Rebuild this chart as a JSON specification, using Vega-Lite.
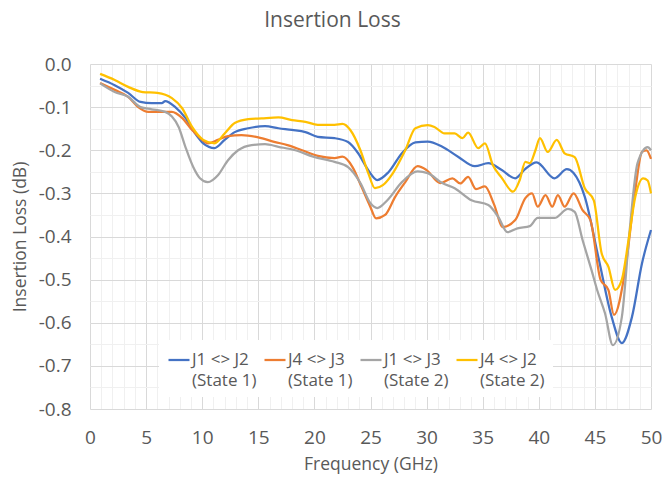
{
  "$schema": "https://vega.github.io/schema/vega-lite/v6.json",
  "width": 561,
  "height": 345,
  "autosize": {"type": "none"},
  "padding": {"left": 90, "top": 64, "right": 14, "bottom": 74},
  "background": "white",
  "title": {"text": "Insertion Loss", "fontSize": 21, "font": "Open Sans", "fontWeight": "normal", "color": "#595959", "anchor": "middle", "dx": -38, "offset": 24},
  "config": {"view": {"stroke": null}, "font": "Open Sans"},
  "data": {"values": [
    {"f": 0.9, "v": -0.034, "s": "J1 <> J2 (State 1)"},
    {"f": 2.2, "v": -0.049, "s": "J1 <> J2 (State 1)"},
    {"f": 3.4, "v": -0.067, "s": "J1 <> J2 (State 1)"},
    {"f": 4.5, "v": -0.088, "s": "J1 <> J2 (State 1)"},
    {"f": 5.5, "v": -0.091, "s": "J1 <> J2 (State 1)"},
    {"f": 6.4, "v": -0.091, "s": "J1 <> J2 (State 1)"},
    {"f": 6.7, "v": -0.086, "s": "J1 <> J2 (State 1)"},
    {"f": 7.6, "v": -0.100, "s": "J1 <> J2 (State 1)"},
    {"f": 8.5, "v": -0.125, "s": "J1 <> J2 (State 1)"},
    {"f": 9.4, "v": -0.162, "s": "J1 <> J2 (State 1)"},
    {"f": 10.1, "v": -0.184, "s": "J1 <> J2 (State 1)"},
    {"f": 11.1, "v": -0.195, "s": "J1 <> J2 (State 1)"},
    {"f": 12.0, "v": -0.176, "s": "J1 <> J2 (State 1)"},
    {"f": 12.9, "v": -0.158, "s": "J1 <> J2 (State 1)"},
    {"f": 14.1, "v": -0.149, "s": "J1 <> J2 (State 1)"},
    {"f": 15.6, "v": -0.144, "s": "J1 <> J2 (State 1)"},
    {"f": 16.8, "v": -0.149, "s": "J1 <> J2 (State 1)"},
    {"f": 18.0, "v": -0.153, "s": "J1 <> J2 (State 1)"},
    {"f": 19.2, "v": -0.158, "s": "J1 <> J2 (State 1)"},
    {"f": 20.3, "v": -0.169, "s": "J1 <> J2 (State 1)"},
    {"f": 21.8, "v": -0.172, "s": "J1 <> J2 (State 1)"},
    {"f": 23.0, "v": -0.181, "s": "J1 <> J2 (State 1)"},
    {"f": 23.9, "v": -0.207, "s": "J1 <> J2 (State 1)"},
    {"f": 24.8, "v": -0.246, "s": "J1 <> J2 (State 1)"},
    {"f": 25.6, "v": -0.269, "s": "J1 <> J2 (State 1)"},
    {"f": 26.6, "v": -0.251, "s": "J1 <> J2 (State 1)"},
    {"f": 27.8, "v": -0.207, "s": "J1 <> J2 (State 1)"},
    {"f": 29.0, "v": -0.182, "s": "J1 <> J2 (State 1)"},
    {"f": 30.1, "v": -0.180, "s": "J1 <> J2 (State 1)"},
    {"f": 31.4, "v": -0.192, "s": "J1 <> J2 (State 1)"},
    {"f": 32.8, "v": -0.215, "s": "J1 <> J2 (State 1)"},
    {"f": 34.3, "v": -0.237, "s": "J1 <> J2 (State 1)"},
    {"f": 35.5, "v": -0.230, "s": "J1 <> J2 (State 1)"},
    {"f": 36.7, "v": -0.246, "s": "J1 <> J2 (State 1)"},
    {"f": 37.9, "v": -0.265, "s": "J1 <> J2 (State 1)"},
    {"f": 38.8, "v": -0.243, "s": "J1 <> J2 (State 1)"},
    {"f": 39.8, "v": -0.228, "s": "J1 <> J2 (State 1)"},
    {"f": 41.4, "v": -0.265, "s": "J1 <> J2 (State 1)"},
    {"f": 42.5, "v": -0.244, "s": "J1 <> J2 (State 1)"},
    {"f": 43.1, "v": -0.253, "s": "J1 <> J2 (State 1)"},
    {"f": 44.1, "v": -0.308, "s": "J1 <> J2 (State 1)"},
    {"f": 45.3, "v": -0.447, "s": "J1 <> J2 (State 1)"},
    {"f": 46.5, "v": -0.587, "s": "J1 <> J2 (State 1)"},
    {"f": 47.4, "v": -0.647, "s": "J1 <> J2 (State 1)"},
    {"f": 48.3, "v": -0.587, "s": "J1 <> J2 (State 1)"},
    {"f": 49.2, "v": -0.462, "s": "J1 <> J2 (State 1)"},
    {"f": 50.0, "v": -0.385, "s": "J1 <> J2 (State 1)"},

    {"f": 0.9, "v": -0.044, "s": "J4 <> J3 (State 1)"},
    {"f": 2.2, "v": -0.060, "s": "J4 <> J3 (State 1)"},
    {"f": 3.4, "v": -0.076, "s": "J4 <> J3 (State 1)"},
    {"f": 4.3, "v": -0.100, "s": "J4 <> J3 (State 1)"},
    {"f": 5.2, "v": -0.111, "s": "J4 <> J3 (State 1)"},
    {"f": 6.4, "v": -0.111, "s": "J4 <> J3 (State 1)"},
    {"f": 7.3, "v": -0.111, "s": "J4 <> J3 (State 1)"},
    {"f": 8.2, "v": -0.125, "s": "J4 <> J3 (State 1)"},
    {"f": 9.1, "v": -0.153, "s": "J4 <> J3 (State 1)"},
    {"f": 10.0, "v": -0.176, "s": "J4 <> J3 (State 1)"},
    {"f": 10.5, "v": -0.184, "s": "J4 <> J3 (State 1)"},
    {"f": 11.4, "v": -0.176, "s": "J4 <> J3 (State 1)"},
    {"f": 12.3, "v": -0.167, "s": "J4 <> J3 (State 1)"},
    {"f": 13.5, "v": -0.165, "s": "J4 <> J3 (State 1)"},
    {"f": 15.0, "v": -0.170, "s": "J4 <> J3 (State 1)"},
    {"f": 16.5, "v": -0.181, "s": "J4 <> J3 (State 1)"},
    {"f": 17.6, "v": -0.188, "s": "J4 <> J3 (State 1)"},
    {"f": 18.9, "v": -0.200, "s": "J4 <> J3 (State 1)"},
    {"f": 20.3, "v": -0.213, "s": "J4 <> J3 (State 1)"},
    {"f": 21.8, "v": -0.218, "s": "J4 <> J3 (State 1)"},
    {"f": 22.5, "v": -0.215, "s": "J4 <> J3 (State 1)"},
    {"f": 23.4, "v": -0.239, "s": "J4 <> J3 (State 1)"},
    {"f": 24.2, "v": -0.285, "s": "J4 <> J3 (State 1)"},
    {"f": 25.0, "v": -0.332, "s": "J4 <> J3 (State 1)"},
    {"f": 25.5, "v": -0.358, "s": "J4 <> J3 (State 1)"},
    {"f": 26.3, "v": -0.350, "s": "J4 <> J3 (State 1)"},
    {"f": 27.2, "v": -0.308, "s": "J4 <> J3 (State 1)"},
    {"f": 28.1, "v": -0.274, "s": "J4 <> J3 (State 1)"},
    {"f": 29.2, "v": -0.237, "s": "J4 <> J3 (State 1)"},
    {"f": 30.0, "v": -0.246, "s": "J4 <> J3 (State 1)"},
    {"f": 31.2, "v": -0.276, "s": "J4 <> J3 (State 1)"},
    {"f": 32.3, "v": -0.265, "s": "J4 <> J3 (State 1)"},
    {"f": 33.0, "v": -0.277, "s": "J4 <> J3 (State 1)"},
    {"f": 33.7, "v": -0.262, "s": "J4 <> J3 (State 1)"},
    {"f": 34.4, "v": -0.290, "s": "J4 <> J3 (State 1)"},
    {"f": 35.2, "v": -0.284, "s": "J4 <> J3 (State 1)"},
    {"f": 36.0, "v": -0.325, "s": "J4 <> J3 (State 1)"},
    {"f": 36.8, "v": -0.378, "s": "J4 <> J3 (State 1)"},
    {"f": 37.9, "v": -0.362, "s": "J4 <> J3 (State 1)"},
    {"f": 38.8, "v": -0.311, "s": "J4 <> J3 (State 1)"},
    {"f": 39.4, "v": -0.300, "s": "J4 <> J3 (State 1)"},
    {"f": 39.9, "v": -0.331, "s": "J4 <> J3 (State 1)"},
    {"f": 40.6, "v": -0.304, "s": "J4 <> J3 (State 1)"},
    {"f": 41.2, "v": -0.331, "s": "J4 <> J3 (State 1)"},
    {"f": 41.7, "v": -0.304, "s": "J4 <> J3 (State 1)"},
    {"f": 42.3, "v": -0.331, "s": "J4 <> J3 (State 1)"},
    {"f": 43.1, "v": -0.300, "s": "J4 <> J3 (State 1)"},
    {"f": 43.9, "v": -0.339, "s": "J4 <> J3 (State 1)"},
    {"f": 44.6, "v": -0.362, "s": "J4 <> J3 (State 1)"},
    {"f": 45.5, "v": -0.500, "s": "J4 <> J3 (State 1)"},
    {"f": 46.2, "v": -0.524, "s": "J4 <> J3 (State 1)"},
    {"f": 46.7, "v": -0.582, "s": "J4 <> J3 (State 1)"},
    {"f": 47.7, "v": -0.478, "s": "J4 <> J3 (State 1)"},
    {"f": 48.6, "v": -0.292, "s": "J4 <> J3 (State 1)"},
    {"f": 49.2, "v": -0.204, "s": "J4 <> J3 (State 1)"},
    {"f": 49.6, "v": -0.200, "s": "J4 <> J3 (State 1)"},
    {"f": 50.0, "v": -0.220, "s": "J4 <> J3 (State 1)"},

    {"f": 0.9, "v": -0.045, "s": "J1 <> J3 (State 2)"},
    {"f": 2.2, "v": -0.065, "s": "J1 <> J3 (State 2)"},
    {"f": 3.4, "v": -0.076, "s": "J1 <> J3 (State 2)"},
    {"f": 4.5, "v": -0.100, "s": "J1 <> J3 (State 2)"},
    {"f": 5.5, "v": -0.105, "s": "J1 <> J3 (State 2)"},
    {"f": 6.7, "v": -0.111, "s": "J1 <> J3 (State 2)"},
    {"f": 7.3, "v": -0.122, "s": "J1 <> J3 (State 2)"},
    {"f": 7.9, "v": -0.146, "s": "J1 <> J3 (State 2)"},
    {"f": 8.5, "v": -0.192, "s": "J1 <> J3 (State 2)"},
    {"f": 9.2, "v": -0.239, "s": "J1 <> J3 (State 2)"},
    {"f": 9.8, "v": -0.265, "s": "J1 <> J3 (State 2)"},
    {"f": 10.5, "v": -0.274, "s": "J1 <> J3 (State 2)"},
    {"f": 11.4, "v": -0.258, "s": "J1 <> J3 (State 2)"},
    {"f": 12.3, "v": -0.223, "s": "J1 <> J3 (State 2)"},
    {"f": 13.2, "v": -0.200, "s": "J1 <> J3 (State 2)"},
    {"f": 14.4, "v": -0.188, "s": "J1 <> J3 (State 2)"},
    {"f": 15.6, "v": -0.186, "s": "J1 <> J3 (State 2)"},
    {"f": 16.8, "v": -0.192, "s": "J1 <> J3 (State 2)"},
    {"f": 18.3, "v": -0.200, "s": "J1 <> J3 (State 2)"},
    {"f": 19.9, "v": -0.215, "s": "J1 <> J3 (State 2)"},
    {"f": 21.8, "v": -0.227, "s": "J1 <> J3 (State 2)"},
    {"f": 23.0, "v": -0.239, "s": "J1 <> J3 (State 2)"},
    {"f": 24.1, "v": -0.276, "s": "J1 <> J3 (State 2)"},
    {"f": 25.0, "v": -0.323, "s": "J1 <> J3 (State 2)"},
    {"f": 25.6, "v": -0.334, "s": "J1 <> J3 (State 2)"},
    {"f": 26.5, "v": -0.316, "s": "J1 <> J3 (State 2)"},
    {"f": 27.8, "v": -0.274, "s": "J1 <> J3 (State 2)"},
    {"f": 29.2, "v": -0.249, "s": "J1 <> J3 (State 2)"},
    {"f": 30.1, "v": -0.253, "s": "J1 <> J3 (State 2)"},
    {"f": 31.4, "v": -0.276, "s": "J1 <> J3 (State 2)"},
    {"f": 32.5, "v": -0.288, "s": "J1 <> J3 (State 2)"},
    {"f": 34.0, "v": -0.316, "s": "J1 <> J3 (State 2)"},
    {"f": 35.5, "v": -0.327, "s": "J1 <> J3 (State 2)"},
    {"f": 36.4, "v": -0.355, "s": "J1 <> J3 (State 2)"},
    {"f": 37.2, "v": -0.390, "s": "J1 <> J3 (State 2)"},
    {"f": 38.1, "v": -0.381, "s": "J1 <> J3 (State 2)"},
    {"f": 39.2, "v": -0.376, "s": "J1 <> J3 (State 2)"},
    {"f": 39.9, "v": -0.357, "s": "J1 <> J3 (State 2)"},
    {"f": 41.4, "v": -0.357, "s": "J1 <> J3 (State 2)"},
    {"f": 42.6, "v": -0.336, "s": "J1 <> J3 (State 2)"},
    {"f": 43.2, "v": -0.343, "s": "J1 <> J3 (State 2)"},
    {"f": 43.9, "v": -0.408, "s": "J1 <> J3 (State 2)"},
    {"f": 44.7, "v": -0.478, "s": "J1 <> J3 (State 2)"},
    {"f": 45.2, "v": -0.524, "s": "J1 <> J3 (State 2)"},
    {"f": 45.9, "v": -0.578, "s": "J1 <> J3 (State 2)"},
    {"f": 46.6, "v": -0.652, "s": "J1 <> J3 (State 2)"},
    {"f": 47.4, "v": -0.587, "s": "J1 <> J3 (State 2)"},
    {"f": 48.1, "v": -0.385, "s": "J1 <> J3 (State 2)"},
    {"f": 48.8, "v": -0.230, "s": "J1 <> J3 (State 2)"},
    {"f": 49.7, "v": -0.193, "s": "J1 <> J3 (State 2)"},
    {"f": 50.0, "v": -0.200, "s": "J1 <> J3 (State 2)"},

    {"f": 0.9, "v": -0.023, "s": "J4 <> J2 (State 2)"},
    {"f": 2.2, "v": -0.037, "s": "J4 <> J2 (State 2)"},
    {"f": 3.4, "v": -0.053, "s": "J4 <> J2 (State 2)"},
    {"f": 4.7, "v": -0.065, "s": "J4 <> J2 (State 2)"},
    {"f": 6.0, "v": -0.067, "s": "J4 <> J2 (State 2)"},
    {"f": 7.3, "v": -0.079, "s": "J4 <> J2 (State 2)"},
    {"f": 8.2, "v": -0.102, "s": "J4 <> J2 (State 2)"},
    {"f": 9.1, "v": -0.146, "s": "J4 <> J2 (State 2)"},
    {"f": 10.1, "v": -0.176, "s": "J4 <> J2 (State 2)"},
    {"f": 11.1, "v": -0.184, "s": "J4 <> J2 (State 2)"},
    {"f": 12.0, "v": -0.161, "s": "J4 <> J2 (State 2)"},
    {"f": 12.9, "v": -0.137, "s": "J4 <> J2 (State 2)"},
    {"f": 14.1, "v": -0.128, "s": "J4 <> J2 (State 2)"},
    {"f": 15.3, "v": -0.126, "s": "J4 <> J2 (State 2)"},
    {"f": 16.8, "v": -0.124, "s": "J4 <> J2 (State 2)"},
    {"f": 18.0, "v": -0.130, "s": "J4 <> J2 (State 2)"},
    {"f": 19.2, "v": -0.134, "s": "J4 <> J2 (State 2)"},
    {"f": 20.3, "v": -0.141, "s": "J4 <> J2 (State 2)"},
    {"f": 21.8, "v": -0.141, "s": "J4 <> J2 (State 2)"},
    {"f": 22.5, "v": -0.139, "s": "J4 <> J2 (State 2)"},
    {"f": 23.2, "v": -0.153, "s": "J4 <> J2 (State 2)"},
    {"f": 24.1, "v": -0.200, "s": "J4 <> J2 (State 2)"},
    {"f": 24.8, "v": -0.253, "s": "J4 <> J2 (State 2)"},
    {"f": 25.4, "v": -0.288, "s": "J4 <> J2 (State 2)"},
    {"f": 26.1, "v": -0.281, "s": "J4 <> J2 (State 2)"},
    {"f": 27.0, "v": -0.253, "s": "J4 <> J2 (State 2)"},
    {"f": 28.1, "v": -0.200, "s": "J4 <> J2 (State 2)"},
    {"f": 29.0, "v": -0.149, "s": "J4 <> J2 (State 2)"},
    {"f": 30.1, "v": -0.142, "s": "J4 <> J2 (State 2)"},
    {"f": 30.7, "v": -0.146, "s": "J4 <> J2 (State 2)"},
    {"f": 31.6, "v": -0.161, "s": "J4 <> J2 (State 2)"},
    {"f": 32.5, "v": -0.161, "s": "J4 <> J2 (State 2)"},
    {"f": 33.2, "v": -0.172, "s": "J4 <> J2 (State 2)"},
    {"f": 33.7, "v": -0.159, "s": "J4 <> J2 (State 2)"},
    {"f": 34.6, "v": -0.195, "s": "J4 <> J2 (State 2)"},
    {"f": 35.2, "v": -0.184, "s": "J4 <> J2 (State 2)"},
    {"f": 35.9, "v": -0.234, "s": "J4 <> J2 (State 2)"},
    {"f": 36.7, "v": -0.264, "s": "J4 <> J2 (State 2)"},
    {"f": 37.7, "v": -0.296, "s": "J4 <> J2 (State 2)"},
    {"f": 38.3, "v": -0.269, "s": "J4 <> J2 (State 2)"},
    {"f": 38.8, "v": -0.227, "s": "J4 <> J2 (State 2)"},
    {"f": 39.2, "v": -0.230, "s": "J4 <> J2 (State 2)"},
    {"f": 39.7, "v": -0.200, "s": "J4 <> J2 (State 2)"},
    {"f": 40.1, "v": -0.172, "s": "J4 <> J2 (State 2)"},
    {"f": 40.8, "v": -0.204, "s": "J4 <> J2 (State 2)"},
    {"f": 41.6, "v": -0.176, "s": "J4 <> J2 (State 2)"},
    {"f": 42.3, "v": -0.207, "s": "J4 <> J2 (State 2)"},
    {"f": 43.2, "v": -0.216, "s": "J4 <> J2 (State 2)"},
    {"f": 44.1, "v": -0.288, "s": "J4 <> J2 (State 2)"},
    {"f": 44.9, "v": -0.316, "s": "J4 <> J2 (State 2)"},
    {"f": 45.6, "v": -0.439, "s": "J4 <> J2 (State 2)"},
    {"f": 46.2, "v": -0.470, "s": "J4 <> J2 (State 2)"},
    {"f": 46.8, "v": -0.524, "s": "J4 <> J2 (State 2)"},
    {"f": 47.4, "v": -0.500, "s": "J4 <> J2 (State 2)"},
    {"f": 48.0, "v": -0.408, "s": "J4 <> J2 (State 2)"},
    {"f": 48.6, "v": -0.308, "s": "J4 <> J2 (State 2)"},
    {"f": 49.3, "v": -0.265, "s": "J4 <> J2 (State 2)"},
    {"f": 49.7, "v": -0.270, "s": "J4 <> J2 (State 2)"},
    {"f": 50.0, "v": -0.300, "s": "J4 <> J2 (State 2)"}
  ]},
  "layer": [
    {
      "mark": {"type": "line", "opacity": 0},
      "encoding": {
        "x": {"field": "f", "type": "quantitative", "scale": {"domain": [0, 50], "nice": false},
          "axis": {"values": [0,1,2,3,4,5,6,7,8,9,10,11,12,13,14,15,16,17,18,19,20,21,22,23,24,25,26,27,28,29,30,31,32,33,34,35,36,37,38,39,40,41,42,43,44,45,46,47,48,49,50],
            "grid": true, "gridColor": "#F0F0F0", "gridWidth": 1, "labels": false, "ticks": false, "domain": false, "title": null, "orient": "bottom"}},
        "y": {"field": "v", "type": "quantitative", "scale": {"domain": [-0.8, 0], "nice": false},
          "axis": {"values": [-0.8,-0.75,-0.7,-0.65,-0.6,-0.55,-0.5,-0.45,-0.4,-0.35,-0.3,-0.25,-0.2,-0.15,-0.1,-0.05,0],
            "grid": true, "gridColor": "#F0F0F0", "gridWidth": 1, "labels": false, "ticks": false, "domain": false, "title": null, "orient": "left"}}
      }
    },
    {
      "mark": {"type": "line", "interpolate": "monotone", "strokeWidth": 2.25},
      "encoding": {
        "x": {"field": "f", "type": "quantitative", "scale": {"domain": [0, 50], "nice": false},
          "axis": {"values": [0,5,10,15,20,25,30,35,40,45,50], "grid": true, "gridColor": "#D9D9D9", "gridWidth": 1,
            "ticks": false, "domain": false, "orient": "bottom", "labelFlush": false, "labelFontSize": 19, "labelColor": "#595959", "labelPadding": 19,
            "title": "Frequency (GHz)", "titleFontSize": 17.5, "titleFontWeight": "normal", "titleColor": "#595959", "titlePadding": 8}},
        "y": {"field": "v", "type": "quantitative", "scale": {"domain": [-0.8, 0], "nice": false},
          "axis": {"values": [-0.8,-0.7,-0.6,-0.5,-0.4,-0.3,-0.2,-0.1,0], "format": ".1f", "labelExpr": "replace(datum.label, '−', '-')",
            "grid": true, "gridColor": "#D9D9D9", "gridWidth": 1, "ticks": false, "domain": false, "orient": "left",
            "labelFontSize": 19, "labelColor": "#595959", "labelPadding": 19,
            "title": "Insertion Loss (dB)", "titleFontSize": 17.5, "titleFontWeight": "normal", "titleColor": "#595959", "titlePadding": 9}},
        "color": {"field": "s", "type": "nominal",
          "scale": {"domain": ["J1 <> J2 (State 1)", "J4 <> J3 (State 1)", "J1 <> J3 (State 2)", "J4 <> J2 (State 2)"],
                    "range": ["#4472C4", "#ED7D31", "#A5A5A5", "#FFC000"]},
          "legend": {"orient": "none", "legendX": 69, "legendY": 276, "direction": "horizontal", "columns": 4,
            "fillColor": "white", "padding": 8, "title": null,
            "symbolType": "stroke", "symbolSize": 441, "symbolStrokeWidth": 2.25,
            "labelExpr": "[slice(datum.label, 0, 8), slice(datum.label, 9)]",
            "labelFontSize": 17, "labelColor": "#595959", "labelOffset": 1, "columnPadding": 3, "labelLimit": 200,
            "encode": {"labels": {"update": {"lineHeight": {"value": 21}}}}}}
      }
    }
  ],
  "resolve": {"axis": {"x": "independent", "y": "independent"}}
}
